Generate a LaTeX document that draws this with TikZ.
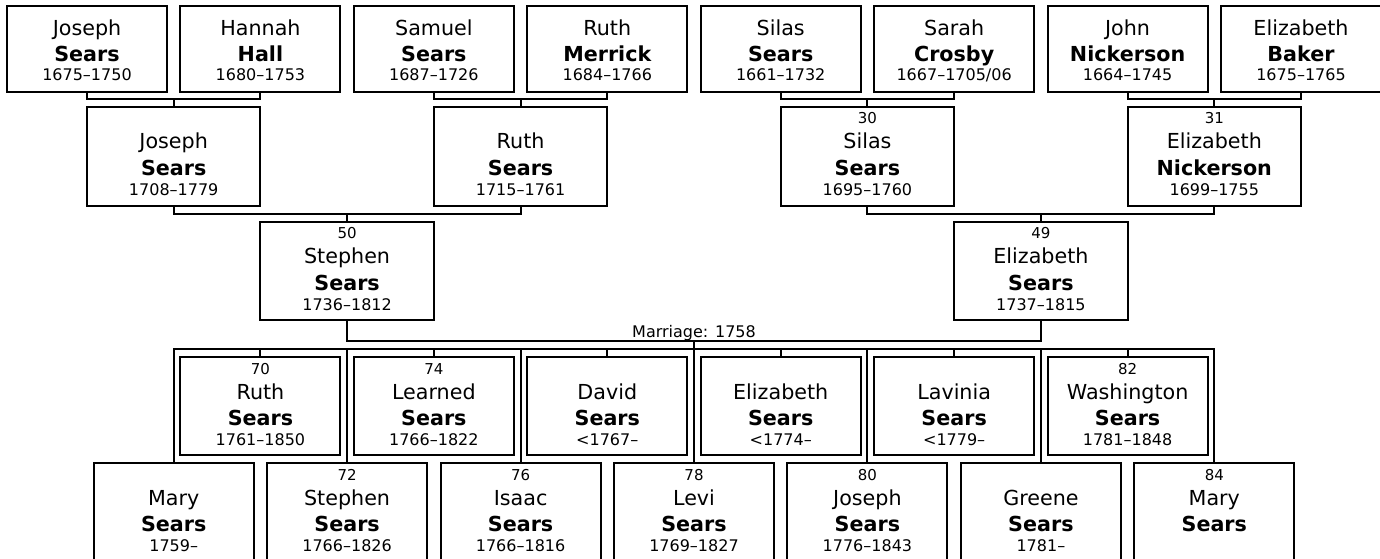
\documentclass[tikz,border=0pt]{standalone}
\usepackage{fontspec}
\setmainfont{DejaVu Sans}
\newcommand\pers[9]{%
  \node[pbox, minimum width=#4, minimum height=#5, anchor=north] (#1) at (#2,#3) {};
  \node[numb] (#1-n) at (#2,#3+17) {#6};
  \node[fname] (#1-f) at (#2,#3+42) {#7};
  \node[lname] (#1-l) at (#2,#3+68.5) {#8};
  \node[dates] (#1-d) at (#2,#3+88.5) {#9};
}
\newcommand\topp[5]{%
  \node[pbox, minimum width=120pt, minimum height=64.5pt, anchor=north] (#1) at (#2,6) {};
  \node[fname] (#1-f) at (#2,36) {#3};
  \node[lname] (#1-l) at (#2,62) {#4};
  \node[dates] (#1-d) at (#2,81) {#5};
}
\begin{document}
\begin{tikzpicture}[x=0.75pt,y=-0.75pt,
  pbox/.style={draw=black, line width=1.5pt, rectangle, inner sep=0pt, outer sep=0pt},
  conn/.style={draw=black, line width=1.5pt, line cap=rect},
  fname/.style={anchor=base, inner sep=0pt, font=\fontsize{15.5}{18}\selectfont},
  lname/.style={anchor=base, inner sep=0pt, font=\fontsize{15.5}{18}\selectfont\bfseries},
  dates/.style={anchor=base, inner sep=0pt, font=\fontsize{12}{14}\selectfont},
  numb/.style={anchor=base, inner sep=0pt, font=\fontsize{11.25}{13}\selectfont},
  lbl/.style={anchor=base, inner sep=0pt, font=\fontsize{12}{14}\selectfont},
]
\useasboundingbox (0,0) rectangle (1380,559);
\clip (0,0) rectangle (1380,559);

% generation 1
\topp{js}{87}{Joseph}{Sears}{1675–1750}
\topp{hh}{260.43}{Hannah}{Hall}{1680–1753}
\topp{ss}{433.86}{Samuel}{Sears}{1687–1726}
\topp{rm}{607.29}{Ruth}{Merrick}{1684–1766}
\topp{sis}{780.72}{Silas}{Sears}{1661–1732}
\topp{sc}{954.15}{Sarah}{Crosby}{1667–1705/06}
\topp{jn}{1127.58}{John}{Nickerson}{1664–1745}
\topp{eb}{1301.01}{Elizabeth}{Baker}{1675–1765}

% generation 2
\pers{jr}{173.7}{107}{130.07pt}{74.25pt}{}{Joseph}{Sears}{1708–1779}
\pers{rs}{520.6}{107}{130.07pt}{74.25pt}{}{Ruth}{Sears}{1715–1761}
\pers{si}{867.4}{107}{130.07pt}{74.25pt}{30}{Silas}{Sears}{1695–1760}
\pers{en}{1214.3}{107}{130.07pt}{74.25pt}{31}{Elizabeth}{Nickerson}{1699–1755}

% generation 3
\pers{st}{347.1}{222}{130.07pt}{73.5pt}{50}{Stephen}{Sears}{1736–1812}
\pers{el}{1040.9}{222}{130.07pt}{73.5pt}{49}{Elizabeth}{Sears}{1737–1815}

% children, upper row
\pers{c70}{260.43}{357}{120pt}{73.5pt}{70}{Ruth}{Sears}{1761–1850}
\pers{c74}{433.86}{357}{120pt}{73.5pt}{74}{Learned}{Sears}{1766–1822}
\pers{cda}{607.29}{357}{120pt}{73.5pt}{}{David}{Sears}{<1767–}
\pers{cel}{780.72}{357}{120pt}{73.5pt}{}{Elizabeth}{Sears}{<1774–}
\pers{cla}{954.15}{357}{120pt}{73.5pt}{}{Lavinia}{Sears}{<1779–}
\pers{c82}{1127.58}{357}{120pt}{73.5pt}{82}{Washington}{Sears}{1781–1848}

% children, lower row
\pers{cma}{173.7}{463}{120pt}{73.5pt}{}{Mary}{Sears}{1759–}
\pers{c72}{347.1}{463}{120pt}{73.5pt}{72}{Stephen}{Sears}{1766–1826}
\pers{c76}{520.6}{463}{120pt}{73.5pt}{76}{Isaac}{Sears}{1766–1816}
\pers{c78}{694.0}{463}{120pt}{73.5pt}{78}{Levi}{Sears}{1769–1827}
\pers{c80}{867.4}{463}{120pt}{73.5pt}{80}{Joseph}{Sears}{1776–1843}
\pers{cgr}{1040.9}{463}{120pt}{73.5pt}{}{Greene}{Sears}{1781–}
\pers{c84}{1214.3}{463}{120pt}{73.5pt}{84}{Mary}{Sears}{}

% parent connectors
\draw[conn] (js.south) -- ++(0,7) -| (hh.south);
\draw[conn] (jr.north) -- ++(0,-8);
\draw[conn] (ss.south) -- ++(0,7) -| (rm.south);
\draw[conn] (rs.north) -- ++(0,-8);
\draw[conn] (sis.south) -- ++(0,7) -| (sc.south);
\draw[conn] (si.north) -- ++(0,-8);
\draw[conn] (jn.south) -- ++(0,7) -| (eb.south);
\draw[conn] (en.north) -- ++(0,-8);

\draw[conn] (jr.south) -- ++(0,8) -| (rs.south);
\draw[conn] (st.north) -- ++(0,-8);
\draw[conn] (si.south) -- ++(0,8) -| (en.south);
\draw[conn] (el.north) -- ++(0,-8);

% marriage
\draw[conn] (st.south) -- ++(0,21) -| (el.south);
\coordinate (mar) at (694,341);
\node[lbl] (marlbl) at (694,337) {Marriage: 1758};
\coordinate (barL) at (cma.north |- 0,349);
\coordinate (barR) at (c84.north |- 0,349);
\draw[conn] (mar) -- (mar |- barL);
\draw[conn] (barL) -- (barR);
\foreach \c in {c70,c74,cda,cel,cla,c82,cma,c72,c76,c78,c80,cgr,c84}
  \draw[conn] (\c.north) -- (\c.north |- barL);
\end{tikzpicture}
\end{document}
